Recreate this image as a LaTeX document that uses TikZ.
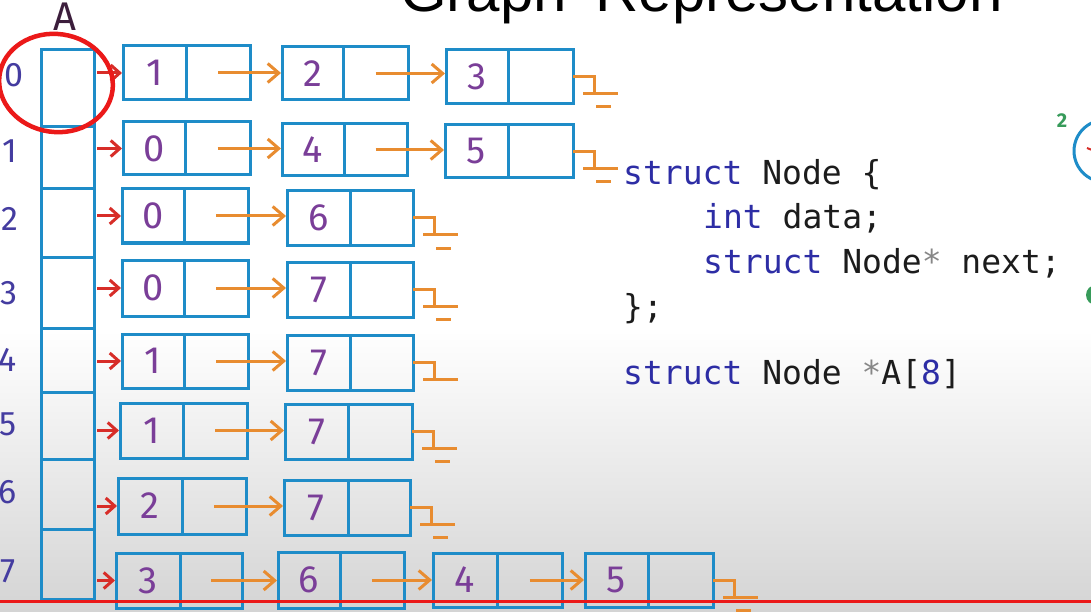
\documentclass[tikz,border=0pt]{standalone}
\usepackage{fontspec}
\setmainfont{Fira Sans}
\newfontfamily\codefont{DejaVu Sans Mono}
\newfontfamily\titlefont{Liberation Sans}
\usetikzlibrary{arrows.meta}
\definecolor{boxblue}{RGB}{30,140,200}
\definecolor{arrorange}{RGB}{232,140,48}
\definecolor{arrred}{RGB}{215,45,40}
\definecolor{barred}{RGB}{235,25,25}
\definecolor{digitpurple}{RGB}{122,62,152}
\definecolor{idxblue}{RGB}{68,60,160}
\definecolor{kwblue}{RGB}{45,45,165}
\definecolor{codeblack}{RGB}{28,28,28}
\definecolor{stargray}{RGB}{135,135,135}
\definecolor{greenmark}{RGB}{55,155,90}
\definecolor{bggray}{RGB}{212,212,212}
\definecolor{labeldark}{RGB}{60,30,60}
\tikzset{
  cellbase/.style={draw=boxblue, line width=3pt, rectangle, outer sep=0pt, inner sep=0pt},
  dcell/.style={cellbase, text=digitpurple, font=\fontsize{38}{38}\selectfont},
  pcell/.style={cellbase},
  acell/.style={cellbase, minimum width=53pt},
  idx/.style={text=idxblue, font=\fontsize{34}{34}\selectfont, inner sep=0pt},
  redarr/.style={draw=arrred, line width=3pt, shorten <=3pt, shorten >=1pt,
    -{Straight Barb[length=9pt,width=16pt]}},
  oarr/.style={draw=arrorange, line width=3pt, shorten >=1pt,
    -{Straight Barb[length=11pt,width=19pt]}},
  gline/.style={draw=arrorange, line width=3pt},
  code/.style={anchor=base west, inner sep=0pt, text=codeblack, font=\codefont\fontsize{33}{40}\selectfont},
  gnd/.pic={\draw[gline] (0,0) -- (21,0) -- (21,17) (10,17) -- (45,17) (23,30) -- (38,30);},
  gndb/.pic={\draw[gline] (0,0) -- (21,0) -- (21,17) (10,17) -- (45,17);}
}
\newcommand\LLbox[7]{%
  \node[dcell, minimum width=#4pt, minimum height=#6pt, anchor=north west] (#1d) at (#2,#3) {#7};
  \node[pcell, minimum width=#5pt, minimum height=#6pt, anchor=north west] (#1p) at (#1d.north east) {};
}
\begin{document}
\begin{tikzpicture}[x=1pt,y=-1pt]
\useasboundingbox (0,0) rectangle (1091,612);
\clip (0,0) rectangle (1091,612);
\fill[white] (0,0) rectangle (1091,612);
\shade[top color=white, bottom color=bggray] (0,330) rectangle (1091,612);

% title (cut off at the top, as in the reference)
\node[anchor=base west, inner sep=0pt, font=\titlefont\fontsize{60}{60}\selectfont] (title) at (400,12) {Graph\hspace{12pt} Representation};

% array A
\node[acell, minimum height=77pt, anchor=north west] (A0) at (41,50) {};
\node[acell, minimum height=62pt, anchor=north west] (A1) at (41,127) {};
\node[acell, minimum height=68pt, anchor=north west] (A2) at (41,189) {};
\node[acell, minimum height=71pt, anchor=north west] (A3) at (41,257) {};
\node[acell, minimum height=64pt, anchor=north west] (A4) at (41,328) {};
\node[acell, minimum height=67pt, anchor=north west] (A5) at (41,392) {};
\node[acell, minimum height=70pt, anchor=north west] (A6) at (41,459) {};
\node[acell, minimum height=70pt, anchor=north west] (A7) at (41,529) {};
\node[text=labeldark, font=\fontsize{40}{40}\selectfont, inner sep=0pt, anchor=base] (Alab) at (65,31) {A};

% index labels
\node[idx] (i0) at (14,75) {0};
\node[idx] (i1) at (10,151) {1};
\node[idx] (i2) at (10,219) {2};
\node[idx] (i3) at (9,293) {3};
\node[idx] (i4) at (8,360) {4};
\node[idx] (i5) at (8,424) {5};
\node[idx] (i6) at (8,492) {6};
\node[idx] (i7) at (8,571) {7};

% lists
\LLbox{r0a}{123}{46}{63}{64}{54}{1}
\LLbox{r0b}{282}{47}{61}{65}{53}{2}
\LLbox{r0c}{446}{50}{62}{65}{54}{3}
\LLbox{r1a}{123}{122}{62}{65}{53}{0}
\LLbox{r1b}{282}{124}{62}{63}{52}{4}
\LLbox{r1c}{445}{125}{63}{65}{53}{5}
\LLbox{r2a}{122}{189}{62}{64}{54}{0}
\LLbox{r2b}{287}{191}{63}{63}{54}{6}
\LLbox{r3a}{122}{260}{62}{64}{56}{0}
\LLbox{r3b}{287}{262}{63}{63}{55}{7}
\LLbox{r4a}{122}{334}{62}{64}{54}{1}
\LLbox{r4b}{287}{335}{63}{63}{55}{7}
\LLbox{r5a}{120}{403}{63}{64}{55}{1}
\LLbox{r5b}{285}{404}{63}{64}{55}{7}
\LLbox{r6a}{118}{478}{64}{64}{56}{2}
\LLbox{r6b}{284}{480}{64}{62}{55}{7}
\LLbox{r7a}{116}{553}{64}{62}{55}{3}
\LLbox{r7b}{278}{552}{62}{64}{56}{6}
\LLbox{r7c}{433}{553}{64}{65}{54}{4}
\LLbox{r7d}{585}{553}{63}{65}{54}{5}

% red arrows from A
\foreach \i in {0,...,7}{
  \draw[redarr] (A\i.east |- r\i ad.west) -- (r\i ad.west);
}
% orange arrows
\draw[oarr] (r0ap.center) -- (r0ap.center -| r0bd.west);
\draw[oarr] (r0bp.center) -- (r0bp.center -| r0cd.west);
\draw[oarr] (r1ap.center) -- (r1ap.center -| r1bd.west);
\draw[oarr] (r1bp.center) -- (r1bp.center -| r1cd.west);
\draw[oarr] (r2ap.center) -- (r2ap.center -| r2bd.west);
\draw[oarr] (r3ap.center) -- (r3ap.center -| r3bd.west);
\draw[oarr] (r4ap.center) -- (r4ap.center -| r4bd.west);
\draw[oarr] (r5ap.center) -- (r5ap.center -| r5bd.west);
\draw[oarr] (r6ap.center) -- (r6ap.center -| r6bd.west);
\draw[oarr] (r7ap.center) -- (r7ap.center -| r7bd.west);
\draw[oarr] (r7bp.center) -- (r7bp.center -| r7cd.west);
\draw[oarr] (r7cp.center) -- (r7cp.center -| r7dd.west);

% NULL (ground) marks
\pic at (r0cp.east) {gnd};
\pic at (r1cp.east) {gnd};
\pic at (r2bp.east) {gnd};
\pic at (r3bp.east) {gnd};
\pic at (r4bp.east) {gndb};
\pic at (r5bp.east) {gnd};
\pic at (r6bp.east) {gnd};
\pic at (r7dp.east) {gnd};

% red circle around index 0
\draw[barred, line width=4.5pt, rotate around={-8:(56,83)}] (56,83) ellipse [x radius=57pt, y radius=49pt];

% code
\node[code] (c1) at (623,185) {\textcolor{kwblue}{struct} Node \{};
\node[code] (c2) at (703,229) {\textcolor{kwblue}{int} data;};
\node[code] (c3) at (703,273) {\textcolor{kwblue}{struct} Node\textcolor{stargray}{*} next;};
\node[code] (c4) at (623,318) {\};};
\node[code] (c5) at (623,384) {\textcolor{kwblue}{struct} Node \textcolor{stargray}{*}A[\textcolor{kwblue}{8}]};

% right edge fragments
\node[text=greenmark, font=\bfseries\fontsize{20}{20}\selectfont, inner sep=0pt] (two) at (1062,121) {2};
\draw[boxblue, line width=3pt] (1105,151) circle [radius=31pt];
\draw[arrred, line width=2pt] (1087,148) -- (1092,150);
\fill[greenmark] (1096,295) circle [radius=10pt];

% progress bar
\draw[barred, line width=3pt] (0,601) -- (1091,601);
\end{tikzpicture}
\end{document}
